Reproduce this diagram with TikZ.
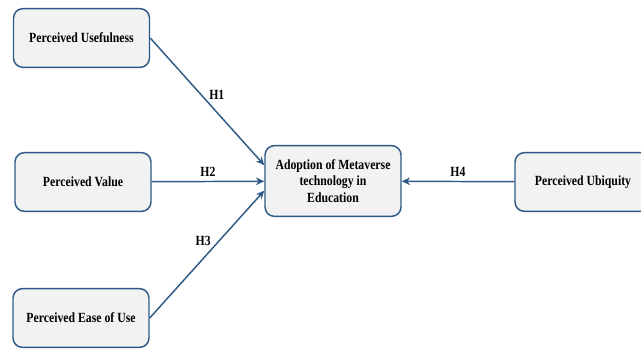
\documentclass[tikz,border=0pt]{standalone}
\usepackage{fontspec}
\setmainfont{Liberation Serif}[FakeStretch=0.84]
\usepackage{tikz}
\usetikzlibrary{arrows.meta,positioning}
\definecolor{tamBlue}{HTML}{2F5A88}
\definecolor{tamFill}{HTML}{F2F2F2}

\begin{document}
\begin{tikzpicture}[x=0.75pt,y=-0.75pt,font=\bfseries\fontsize{10.5}{12.5}\selectfont,
  box/.style={draw=tamBlue,fill=tamFill,rounded corners=7pt,line width=1.1pt,
    minimum width=102pt,minimum height=44pt,align=center,inner sep=2pt},
  arr/.style={-{Stealth[length=2.2mm,width=2mm]},line width=1.1pt,tamBlue},
  hyp/.style={font=\bfseries\fontsize{10.5}{12}\selectfont,text=black}]
\useasboundingbox (0,0) rectangle (641,350);
\node[box] (use) at (81.5,38) {Perceived Usefulness};
\node[box] (val) at (83,182) {Perceived Value};
\node[box] (ease) at (81,318) {Perceived Ease of Use};
\node[box,minimum height=53pt] (adopt) at (333,181) {Adoption of Metaverse\\technology in\\Education};
\node[box] (ubiq) at (583,182) {Perceived Ubiquity};
\draw[arr] (use.east) -- node[pos=0.5,above right,hyp,inner sep=1pt]{H1} (adopt.167);
\draw[arr] (val) -- node[above,hyp]{H2} (adopt);
\draw[arr] (ease.east) -- node[pos=0.55,above left,hyp,inner sep=1pt]{H3} (adopt.188);
\draw[arr] (ubiq) -- node[above,hyp]{H4} (adopt);
\end{tikzpicture}
\end{document}
